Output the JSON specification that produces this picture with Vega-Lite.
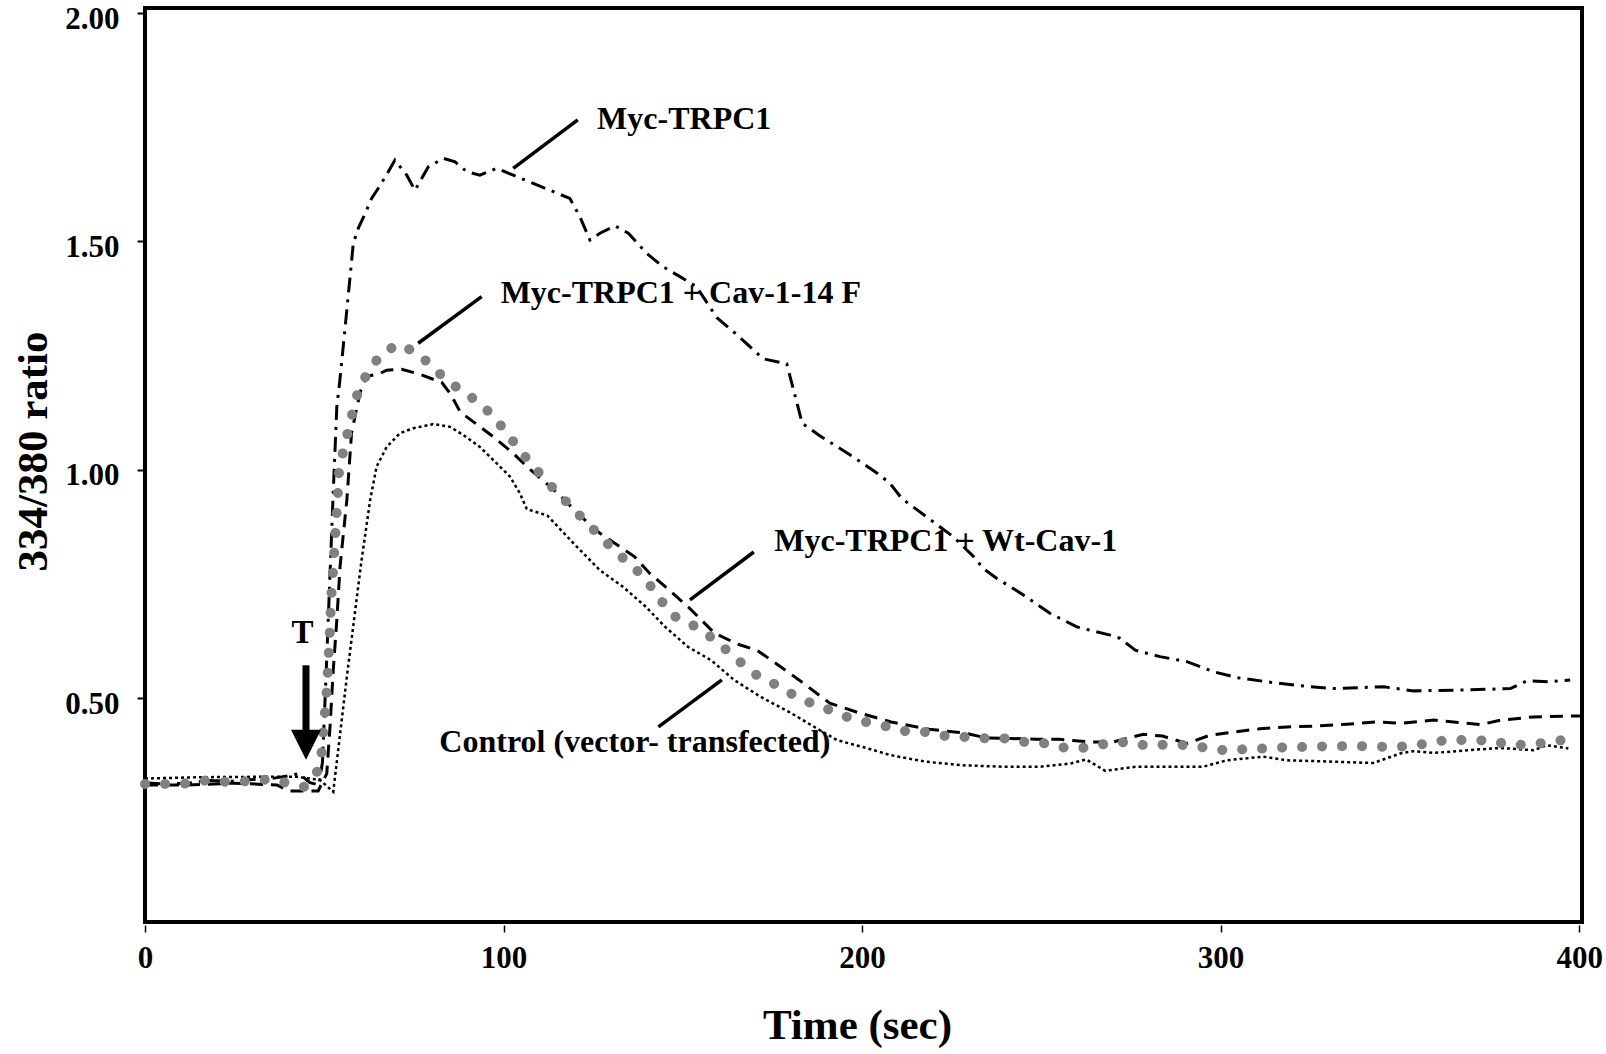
{
  "$schema": "https://vega.github.io/schema/vega-lite/v6.json",
  "width": 1437,
  "height": 914,
  "autosize": {"type": "none"},
  "padding": {"left": 145, "top": 8, "right": 24, "bottom": 132},
  "background": "white",
  "config": {
    "view": {"stroke": "black", "strokeWidth": 4},
    "font": "Liberation Serif"
  },
  "datasets": {
    "trpc1": [
      {"t": 0, "v": 0.315}, {"t": 6, "v": 0.312}, {"t": 12, "v": 0.314}, {"t": 18, "v": 0.32}, {"t": 24, "v": 0.318},
      {"t": 30, "v": 0.322}, {"t": 36, "v": 0.325}, {"t": 40, "v": 0.33}, {"t": 43, "v": 0.335}, {"t": 46, "v": 0.315},
      {"t": 48.5, "v": 0.31}, {"t": 49.5, "v": 0.36}, {"t": 50.5, "v": 0.55}, {"t": 51.5, "v": 0.75}, {"t": 52.5, "v": 0.95},
      {"t": 53.5, "v": 1.138}, {"t": 54.2, "v": 1.185}, {"t": 55.1, "v": 1.255}, {"t": 56.3, "v": 1.35}, {"t": 57.2, "v": 1.423},
      {"t": 58.1, "v": 1.496}, {"t": 59.5, "v": 1.529}, {"t": 61.4, "v": 1.561}, {"t": 63.2, "v": 1.594}, {"t": 65.6, "v": 1.623},
      {"t": 67.9, "v": 1.653}, {"t": 69.7, "v": 1.678}, {"t": 73.0, "v": 1.645}, {"t": 75.3, "v": 1.612}, {"t": 79.0, "v": 1.663},
      {"t": 83.2, "v": 1.682}, {"t": 86.5, "v": 1.674}, {"t": 89.7, "v": 1.653}, {"t": 93.4, "v": 1.645}, {"t": 98.1, "v": 1.66},
      {"t": 102.7, "v": 1.645}, {"t": 108.3, "v": 1.627}, {"t": 113.9, "v": 1.609}, {"t": 118.5, "v": 1.594}, {"t": 121.3, "v": 1.554},
      {"t": 124.1, "v": 1.503}, {"t": 126.9, "v": 1.518}, {"t": 131.1, "v": 1.534}, {"t": 134.8, "v": 1.518}, {"t": 139.9, "v": 1.474},
      {"t": 144.6, "v": 1.444}, {"t": 149.2, "v": 1.423}, {"t": 153.8, "v": 1.401}, {"t": 159.5, "v": 1.333}, {"t": 165.2, "v": 1.295},
      {"t": 172.4, "v": 1.243}, {"t": 179.0, "v": 1.232}, {"t": 183.3, "v": 1.102}, {"t": 188.1, "v": 1.075}, {"t": 197.6, "v": 1.028},
      {"t": 205.0, "v": 0.988}, {"t": 207.8, "v": 0.97}, {"t": 211.1, "v": 0.937}, {"t": 218.0, "v": 0.897}, {"t": 225.5, "v": 0.853},
      {"t": 231.1, "v": 0.81}, {"t": 233.8, "v": 0.784}, {"t": 237.6, "v": 0.762}, {"t": 245.0, "v": 0.726}, {"t": 252.4, "v": 0.686},
      {"t": 259.9, "v": 0.656}, {"t": 269.2, "v": 0.638}, {"t": 272.0, "v": 0.631}, {"t": 276.2, "v": 0.605}, {"t": 283.1, "v": 0.591},
      {"t": 290.6, "v": 0.58}, {"t": 298.0, "v": 0.558}, {"t": 304.5, "v": 0.545}, {"t": 314.7, "v": 0.534}, {"t": 324.0, "v": 0.526},
      {"t": 331.5, "v": 0.521}, {"t": 345.4, "v": 0.525}, {"t": 353.8, "v": 0.516}, {"t": 368.7, "v": 0.518}, {"t": 380.8, "v": 0.521},
      {"t": 385.4, "v": 0.538}, {"t": 391.9, "v": 0.536}, {"t": 397.5, "v": 0.54}
    ],
    "cav14f": [
      {"t": 0, "v": 0.312}, {"t": 5.8, "v": 0.312}, {"t": 11.4, "v": 0.313}, {"t": 17.0, "v": 0.32}, {"t": 22.8, "v": 0.317},
      {"t": 28.4, "v": 0.318}, {"t": 33.9, "v": 0.322}, {"t": 39.5, "v": 0.315}, {"t": 44.4, "v": 0.306}, {"t": 48.2, "v": 0.341},
      {"t": 49.3, "v": 0.383}, {"t": 49.7, "v": 0.426}, {"t": 50.2, "v": 0.47}, {"t": 50.7, "v": 0.518}, {"t": 51.0, "v": 0.561},
      {"t": 51.3, "v": 0.605}, {"t": 51.6, "v": 0.653}, {"t": 51.8, "v": 0.696}, {"t": 52.1, "v": 0.74}, {"t": 52.5, "v": 0.784},
      {"t": 53.9, "v": 0.963}, {"t": 54.2, "v": 1.007}, {"t": 55.6, "v": 1.05}, {"t": 56.9, "v": 1.094}, {"t": 58.3, "v": 1.138},
      {"t": 59.7, "v": 1.18}, {"t": 62.6, "v": 1.218}, {"t": 66.0, "v": 1.255}, {"t": 70.8, "v": 1.275}, {"t": 76.1, "v": 1.255},
      {"t": 80.1, "v": 1.226}, {"t": 84.4, "v": 1.194}, {"t": 89.0, "v": 1.17}, {"t": 93.7, "v": 1.144}, {"t": 97.6, "v": 1.113},
      {"t": 101.2, "v": 1.078}, {"t": 104.6, "v": 1.042}, {"t": 108.3, "v": 1.008}, {"t": 112.0, "v": 0.975}, {"t": 116.0, "v": 0.942},
      {"t": 128.0, "v": 0.846}, {"t": 132.1, "v": 0.815}, {"t": 136.5, "v": 0.786}, {"t": 140.3, "v": 0.753}, {"t": 143.7, "v": 0.717},
      {"t": 146.9, "v": 0.682}, {"t": 152.0, "v": 0.664}, {"t": 156.8, "v": 0.64}, {"t": 161.1, "v": 0.613}, {"t": 165.6, "v": 0.582},
      {"t": 169.8, "v": 0.554}, {"t": 174.9, "v": 0.534}, {"t": 179.7, "v": 0.512}, {"t": 184.9, "v": 0.492}, {"t": 190.4, "v": 0.476},
      {"t": 195.8, "v": 0.459}, {"t": 201.1, "v": 0.448}, {"t": 206.4, "v": 0.439}, {"t": 212.0, "v": 0.428}, {"t": 217.7, "v": 0.426},
      {"t": 223.5, "v": 0.417}, {"t": 229.1, "v": 0.415}, {"t": 234.7, "v": 0.412}, {"t": 240.6, "v": 0.412}, {"t": 246.2, "v": 0.403},
      {"t": 251.6, "v": 0.401}, {"t": 257.2, "v": 0.39}, {"t": 262.8, "v": 0.392}, {"t": 268.4, "v": 0.401}, {"t": 273.9, "v": 0.404},
      {"t": 279.6, "v": 0.396}, {"t": 285.2, "v": 0.399}, {"t": 290.8, "v": 0.397}, {"t": 296.3, "v": 0.391}, {"t": 301.9, "v": 0.385},
      {"t": 307.5, "v": 0.389}, {"t": 313.1, "v": 0.39}, {"t": 318.7, "v": 0.393}, {"t": 324.3, "v": 0.393}, {"t": 330.1, "v": 0.395},
      {"t": 335.6, "v": 0.395}, {"t": 341.4, "v": 0.395}, {"t": 347.1, "v": 0.393}, {"t": 352.7, "v": 0.395}, {"t": 358.4, "v": 0.402},
      {"t": 364.0, "v": 0.41}, {"t": 369.6, "v": 0.407}, {"t": 375.2, "v": 0.408}, {"t": 380.8, "v": 0.397}, {"t": 386.4, "v": 0.399},
      {"t": 392.2, "v": 0.404}, {"t": 397.7, "v": 0.412}
    ],
    "wtcav": [
      {"t": 0, "v": 0.31}, {"t": 11.6, "v": 0.31}, {"t": 24.7, "v": 0.314}, {"t": 36.8, "v": 0.31}, {"t": 40, "v": 0.297},
      {"t": 48.3, "v": 0.297}, {"t": 50.7, "v": 0.335}, {"t": 51.6, "v": 0.437}, {"t": 52.5, "v": 0.561}, {"t": 53.5, "v": 0.671},
      {"t": 54.4, "v": 0.788}, {"t": 56.3, "v": 0.934}, {"t": 57.6, "v": 1.08}, {"t": 60.0, "v": 1.17}, {"t": 61.8, "v": 1.204},
      {"t": 65.6, "v": 1.211}, {"t": 67.4, "v": 1.218}, {"t": 71.6, "v": 1.22}, {"t": 76.7, "v": 1.209}, {"t": 82.8, "v": 1.191},
      {"t": 85.3, "v": 1.165}, {"t": 87.9, "v": 1.127}, {"t": 91.6, "v": 1.105}, {"t": 97.2, "v": 1.072}, {"t": 102.7, "v": 1.036},
      {"t": 106.5, "v": 1.007}, {"t": 112.0, "v": 0.97}, {"t": 116.7, "v": 0.937}, {"t": 120.3, "v": 0.907}, {"t": 126.9, "v": 0.861},
      {"t": 136.5, "v": 0.81}, {"t": 140.8, "v": 0.773}, {"t": 145.1, "v": 0.744}, {"t": 151.5, "v": 0.7}, {"t": 158.9, "v": 0.642},
      {"t": 165.4, "v": 0.618}, {"t": 170.7, "v": 0.605}, {"t": 176.0, "v": 0.576}, {"t": 182.4, "v": 0.54}, {"t": 191.0, "v": 0.489},
      {"t": 199.5, "v": 0.467}, {"t": 208.1, "v": 0.448}, {"t": 218.7, "v": 0.432}, {"t": 228.3, "v": 0.424}, {"t": 234.7, "v": 0.413},
      {"t": 241.1, "v": 0.412}, {"t": 248.6, "v": 0.41}, {"t": 255.0, "v": 0.41}, {"t": 263.6, "v": 0.404}, {"t": 270.0, "v": 0.404},
      {"t": 278.5, "v": 0.421}, {"t": 283.8, "v": 0.417}, {"t": 290.6, "v": 0.401}, {"t": 297.1, "v": 0.419}, {"t": 303.6, "v": 0.426},
      {"t": 311.0, "v": 0.433}, {"t": 318.5, "v": 0.437}, {"t": 326.8, "v": 0.439}, {"t": 335.2, "v": 0.443}, {"t": 343.6, "v": 0.448},
      {"t": 350.1, "v": 0.445}, {"t": 359.4, "v": 0.452}, {"t": 365.0, "v": 0.448}, {"t": 372.5, "v": 0.442}, {"t": 378.1, "v": 0.452},
      {"t": 387.3, "v": 0.459}, {"t": 399.4, "v": 0.461}, {"t": 400.8, "v": 0.461}
    ],
    "control": [
      {"t": 0, "v": 0.324}, {"t": 15.3, "v": 0.327}, {"t": 33.9, "v": 0.328}, {"t": 42.2, "v": 0.328}, {"t": 48.8, "v": 0.321},
      {"t": 52.5, "v": 0.295}, {"t": 56.3, "v": 0.547}, {"t": 60.4, "v": 0.802}, {"t": 62.8, "v": 0.934}, {"t": 64.6, "v": 1.007},
      {"t": 67.4, "v": 1.05}, {"t": 71.1, "v": 1.08}, {"t": 74.8, "v": 1.091}, {"t": 80.4, "v": 1.1}, {"t": 85.1, "v": 1.094},
      {"t": 88.8, "v": 1.076}, {"t": 93.4, "v": 1.05}, {"t": 98.1, "v": 1.014}, {"t": 101.8, "v": 0.985}, {"t": 104.6, "v": 0.948},
      {"t": 106.5, "v": 0.914}, {"t": 112.2, "v": 0.9}, {"t": 119.4, "v": 0.84}, {"t": 126.9, "v": 0.78}, {"t": 133.3, "v": 0.744},
      {"t": 139.7, "v": 0.7}, {"t": 145.1, "v": 0.656}, {"t": 151.5, "v": 0.612}, {"t": 157.9, "v": 0.583}, {"t": 164.3, "v": 0.54},
      {"t": 171.7, "v": 0.503}, {"t": 180.3, "v": 0.467}, {"t": 186.7, "v": 0.437}, {"t": 193.1, "v": 0.408}, {"t": 201.6, "v": 0.39},
      {"t": 208.1, "v": 0.375}, {"t": 217.7, "v": 0.361}, {"t": 228.3, "v": 0.353}, {"t": 239.0, "v": 0.35}, {"t": 249.7, "v": 0.35},
      {"t": 258.2, "v": 0.357}, {"t": 262.5, "v": 0.366}, {"t": 267.8, "v": 0.341}, {"t": 276.4, "v": 0.35}, {"t": 295.2, "v": 0.35},
      {"t": 301.7, "v": 0.364}, {"t": 311.9, "v": 0.372}, {"t": 318.5, "v": 0.364}, {"t": 331.5, "v": 0.361}, {"t": 342.6, "v": 0.358},
      {"t": 350.1, "v": 0.379}, {"t": 353.8, "v": 0.384}, {"t": 359.4, "v": 0.38}, {"t": 368.7, "v": 0.386}, {"t": 378.1, "v": 0.391},
      {"t": 387.3, "v": 0.386}, {"t": 391.0, "v": 0.397}, {"t": 397.0, "v": 0.39}
    ],
    "labels": [
      {"t": 126.1, "v": 1.768, "label": "Myc-TRPC1"},
      {"t": 99.2, "v": 1.386, "label": "Myc-TRPC1 + Cav-1-14 F"},
      {"t": 175.5, "v": 0.844, "label": "Myc-TRPC1 + Wt-Cav-1"},
      {"t": 82.1, "v": 0.403, "label": "Control (vector- transfected)"}
    ],
    "leaders": [
      {"t": 102.7, "v": 1.66, "t2": 120.7, "v2": 1.766},
      {"t": 76.2, "v": 1.277, "t2": 93.9, "v2": 1.379},
      {"t": 152.0, "v": 0.715, "t2": 169.8, "v2": 0.82},
      {"t": 143.2, "v": 0.437, "t2": 160.9, "v2": 0.54}
    ],
    "arrow": [
      {"t": 44.9, "v": 0.572, "v2": 0.42, "head": 0.398, "label": "T", "tl": 43.9, "vl": 0.6425}
    ]
  },
  "encoding": {
    "x": {
      "field": "t", "type": "quantitative",
      "scale": {"domain": [0, 400.8], "nice": false, "zero": false},
      "axis": {
        "title": "Time (sec)", "values": [0, 100, 200, 300, 400], "format": "d",
        "grid": false, "domain": false, "offset": 3,
        "tickSize": 7, "tickWidth": 1.5, "tickColor": "black",
        "labelFont": "Liberation Serif", "labelFontWeight": "bold", "labelFontSize": 31, "labelColor": "black",
        "labelPadding": 11, "labelFlush": false, "labelOverlap": false, "labelBound": false,
        "titleFont": "Liberation Serif", "titleFontWeight": "bold", "titleFontSize": 43, "titleColor": "black",
        "titleX": 712, "titleY": 113, "titleAlign": "center", "titleBaseline": "alphabetic", "titleAnchor": null
      }
    },
    "y": {
      "field": "v", "type": "quantitative",
      "scale": {"domain": [0.01, 2.011], "nice": false, "zero": false},
      "axis": {
        "title": "334/380 ratio", "values": [0.5, 1, 1.5, 2], "format": ".2f",
        "grid": false, "domain": false,
        "tickSize": 8, "tickWidth": 2, "tickColor": "black",
        "labelFont": "Liberation Serif", "labelFontWeight": "bold", "labelFontSize": 31, "labelColor": "black",
        "labelPadding": 18, "labelOffset": 6, "labelFlush": false, "labelOverlap": false, "labelBound": false,
        "titleFont": "Liberation Serif", "titleFontWeight": "bold", "titleFontSize": 43, "titleColor": "black",
        "titleX": -112, "titleY": 443, "titleAngle": -90, "titleAlign": "center", "titleBaseline": "middle"
      }
    }
  },
  "layer": [
    {
      "data": {"name": "control"},
      "mark": {"type": "line", "color": "black", "strokeWidth": 2.5, "strokeDash": [3, 3]}
    },
    {
      "data": {"name": "trpc1"},
      "mark": {"type": "line", "color": "black", "strokeWidth": 3, "strokeDash": [15, 7, 3, 7]}
    },
    {
      "data": {"name": "wtcav"},
      "mark": {"type": "line", "color": "black", "strokeWidth": 3, "strokeDash": [13, 8]}
    },
    {
      "data": {"name": "cav14f"},
      "mark": {"type": "line", "color": "#808080", "strokeWidth": 10, "strokeCap": "round", "strokeDash": [0.1, 19.9]}
    },
    {
      "data": {"name": "leaders"},
      "mark": {"type": "rule", "color": "black", "strokeWidth": 3.5},
      "encoding": {"x2": {"field": "t2"}, "y2": {"field": "v2"}}
    },
    {
      "data": {"name": "labels"},
      "mark": {"type": "text", "align": "left", "baseline": "middle", "font": "Liberation Serif", "fontWeight": "bold", "fontSize": 32, "color": "black"},
      "encoding": {"text": {"field": "label"}}
    },
    {
      "data": {"name": "arrow"},
      "mark": {"type": "rule", "color": "black", "strokeWidth": 7},
      "encoding": {"y2": {"field": "v2"}}
    },
    {
      "data": {"name": "arrow"},
      "mark": {"type": "point", "shape": "M-1,-1L1,-1L0,1Z", "size": 900, "filled": true, "color": "black", "opacity": 1, "strokeWidth": 0},
      "encoding": {"y": {"field": "head", "type": "quantitative"}}
    },
    {
      "data": {"name": "arrow"},
      "mark": {"type": "text", "align": "center", "baseline": "middle", "font": "Liberation Serif", "fontWeight": "bold", "fontSize": 33, "color": "black"},
      "encoding": {"x": {"field": "tl", "type": "quantitative"}, "y": {"field": "vl", "type": "quantitative"}, "text": {"field": "label"}}
    }
  ]
}
